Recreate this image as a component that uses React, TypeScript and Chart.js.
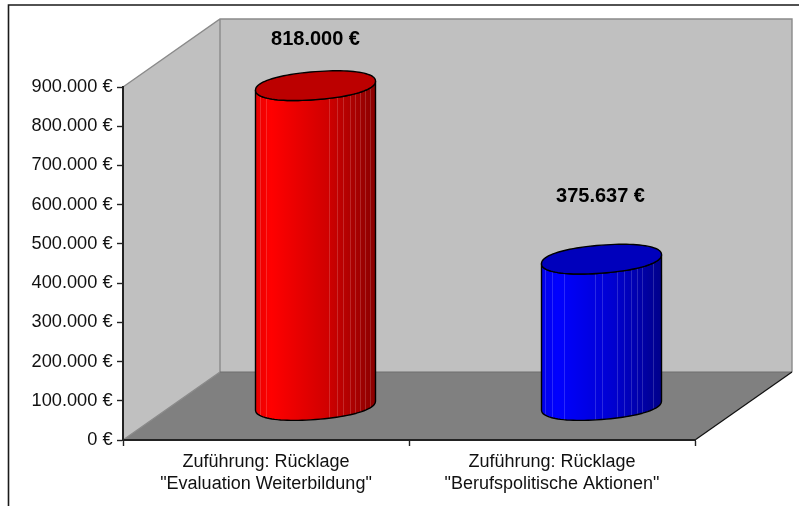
import React, { useEffect, useRef } from "react";
import { Chart, registerables } from "chart.js";

Chart.register(...registerables);

const categories = [
  ["Zuführung: Rücklage", '"Evaluation Weiterbildung"'],
  ['Zuführung: Rücklage', '"Berufspolitische Aktionen"'],
];
const values = [818000, 375637];
const labelLifts = [46.5, 63];
const yMax = 900000;
const yStep = 100000;

const bodyStops = [
  ["#e80000", "#ff0000", "#d00000", "#8a0000"],
  ["#0000e8", "#0000ff", "#0000d0", "#00008a"],
];
const capColors = ["#bc0000", "#0000bc"];
const stripeOffsets = [
  [4, 10, 73, 81, 87, 94, 99, 104, 109, 114],
  [3, 10, 22, 53, 60, 75, 82, 89, 95, 100, 111],
];

const WIDTH = 799;
const HEIGHT = 506;
const DEPTH_X = 97;
const DEPTH_Y = -68;
const BAR_W = 120;
const CAP_B = 14;
const CAP_SKEW = -4.5;
const CAP_POWER = 0.92;

const euro = (v: number) =>
  String(v).replace(/\B(?=(\d{3})+$)/g, ".") + " €";

const soft = (v: number) => Math.sign(v) * Math.pow(Math.abs(v), CAP_POWER);

function capPoint(cx: number, cy: number, a: number, t: number): [number, number] {
  const c = soft(Math.cos(t));
  const s = soft(Math.sin(t));
  return [cx + a * c, cy + CAP_B * s + CAP_SKEW * c];
}

function capPath(ctx: CanvasRenderingContext2D, cx: number, cy: number, a: number) {
  ctx.beginPath();
  for (let i = 0; i <= 96; i++) {
    const [x, y] = capPoint(cx, cy, a, (i / 96) * Math.PI * 2);
    if (i === 0) ctx.moveTo(x, y);
    else ctx.lineTo(x, y);
  }
  ctx.closePath();
}

function bodyPath(ctx: CanvasRenderingContext2D, cx: number, top: number, base: number, a: number) {
  ctx.beginPath();
  ctx.moveTo(cx - a, top - CAP_SKEW);
  ctx.lineTo(cx - a, base - CAP_SKEW);
  for (let i = 0; i <= 48; i++) {
    const [x, y] = capPoint(cx, base, a, Math.PI - (i / 48) * Math.PI);
    ctx.lineTo(x, y);
  }
  ctx.lineTo(cx + a, top + CAP_SKEW);
  for (let i = 0; i <= 48; i++) {
    const [x, y] = capPoint(cx, top, a, (i / 48) * Math.PI);
    ctx.lineTo(x, y);
  }
  ctx.closePath();
}

const scenePlugin = {
  id: "scene",
  beforeDraw(chart: any) {
    const { ctx, chartArea: a } = chart;
    ctx.save();
    ctx.fillStyle = "#ffffff";
    ctx.fillRect(0, 0, WIDTH, HEIGHT);

    ctx.strokeStyle = "#1a1a1a";
    ctx.lineWidth = 1.6;
    ctx.beginPath();
    ctx.moveTo(WIDTH, 5);
    ctx.lineTo(8.5, 5);
    ctx.lineTo(8.5, HEIGHT);
    ctx.stroke();

    const bx = DEPTH_X;
    const by = DEPTH_Y;
    ctx.fillStyle = "#c0c0c0";
    ctx.beginPath();
    ctx.rect(a.left + bx, a.top + by, a.width, a.height);
    ctx.fill();
    ctx.beginPath();
    ctx.moveTo(a.left, a.top);
    ctx.lineTo(a.left + bx, a.top + by);
    ctx.lineTo(a.left + bx, a.bottom + by);
    ctx.lineTo(a.left, a.bottom);
    ctx.closePath();
    ctx.fill();
    ctx.fillStyle = "#808080";
    ctx.beginPath();
    ctx.moveTo(a.left, a.bottom);
    ctx.lineTo(a.left + bx, a.bottom + by);
    ctx.lineTo(a.right + bx, a.bottom + by);
    ctx.lineTo(a.right, a.bottom);
    ctx.closePath();
    ctx.fill();

    ctx.strokeStyle = "#8a8a8a";
    ctx.lineWidth = 1.4;
    ctx.beginPath();
    ctx.moveTo(a.left, a.top);
    ctx.lineTo(a.left + bx, a.top + by);
    ctx.lineTo(a.right + bx, a.top + by);
    ctx.lineTo(a.right + bx, a.bottom + by);
    ctx.moveTo(a.left + bx, a.top + by);
    ctx.lineTo(a.left + bx, a.bottom + by);
    ctx.moveTo(a.left, a.bottom);
    ctx.lineTo(a.left + bx, a.bottom + by);
    ctx.stroke();
    ctx.strokeStyle = "#6e6e6e";
    ctx.lineWidth = 1;
    ctx.beginPath();
    ctx.moveTo(a.left + bx, a.bottom + by);
    ctx.lineTo(a.right + bx, a.bottom + by);
    ctx.stroke();
    ctx.strokeStyle = "#111111";
    ctx.lineWidth = 1.2;
    ctx.beginPath();
    ctx.moveTo(a.right, a.bottom);
    ctx.lineTo(a.right + bx, a.bottom + by);
    ctx.stroke();
    ctx.restore();
  },
  afterDatasetsDraw(chart: any) {
    const { ctx } = chart;
    const meta = chart.getDatasetMeta(0);
    const dx = DEPTH_X / 2 + 1;
    const dy = DEPTH_Y / 2;
    meta.data.forEach((bar: any, i: number) => {
      const { x, y, base, width } = bar.getProps(["x", "y", "base", "width"], true);
      const cx = x + dx;
      const top = y + dy + 0.5;
      const bot = base + dy;
      const a = width / 2;

      ctx.save();
      bodyPath(ctx, cx, top, bot, a);
      const g = ctx.createLinearGradient(cx - a, 0, cx + a, 0);
      const s = bodyStops[i];
      g.addColorStop(0, s[0]);
      g.addColorStop(0.13, s[1]);
      g.addColorStop(0.6, s[2]);
      g.addColorStop(1, s[3]);
      ctx.fillStyle = g;
      ctx.fill();
      ctx.save();
      ctx.clip();
      ctx.strokeStyle = "rgba(255,255,255,0.16)";
      ctx.lineWidth = 1;
      stripeOffsets[i].forEach((o) => {
        const sx = Math.round(cx - a + o) + 0.5;
        ctx.beginPath();
        ctx.moveTo(sx, top - 30);
        ctx.lineTo(sx, bot + 30);
        ctx.stroke();
      });
      ctx.restore();
      ctx.strokeStyle = "#000000";
      ctx.lineWidth = 1.4;
      ctx.lineJoin = "round";
      bodyPath(ctx, cx, top, bot, a);
      ctx.stroke();
      capPath(ctx, cx, top, a);
      ctx.fillStyle = capColors[i];
      ctx.fill();
      ctx.stroke();

      ctx.fillStyle = "#000000";
      ctx.font = 'bold 20px "Liberation Sans", Arial, sans-serif';
      ctx.textAlign = "center";
      ctx.textBaseline = "middle";
      ctx.fillText(euro(values[i]), cx - (i === 1 ? 1 : 0), top - labelLifts[i]);
      ctx.restore();
    });
  },
};

export default function App() {
  const ref = useRef<HTMLCanvasElement | null>(null);
  useEffect(() => {
    const chart = new Chart(ref.current as HTMLCanvasElement, {
      type: "bar",
      data: {
        labels: categories as any,
        datasets: [
          {
            data: values,
            backgroundColor: "rgba(0,0,0,0)",
            borderWidth: 0,
            barThickness: BAR_W,
          },
        ],
      },
      options: {
        responsive: false,
        animation: false,
        layout: { padding: { top: 87, right: 104, left: 0, bottom: 0 } },
        plugins: { legend: { display: false }, tooltip: { enabled: false } },
        scales: {
          x: {
            afterFit(axis: any) {
              axis.height = HEIGHT - 440;
            },
            grid: {
              drawOnChartArea: false,
              drawTicks: true,
              tickLength: 6,
              tickColor: "#222222",
              tickWidth: 1.4,
            },
            border: { color: "#222222", width: 2 },
            ticks: {
              color: "#111111",
              font: { family: '"Liberation Sans", Arial, sans-serif', size: 18, lineHeight: 1.2 },
              padding: 5.5,
              maxRotation: 0,
              autoSkip: false,
            },
          },
          y: {
            min: 0,
            max: yMax,
            afterFit(axis: any) {
              axis.width = 123;
            },
            grid: {
              drawOnChartArea: false,
              drawTicks: true,
              tickLength: 6,
              tickColor: "#222222",
              tickWidth: 1.4,
            },
            border: { color: "#222222", width: 2 },
            ticks: {
              stepSize: yStep,
              color: "#111111",
              font: { family: '"Liberation Sans", Arial, sans-serif', size: 18.2 },
              padding: 4.5,
              callback: (v: any) => euro(Number(v)),
            },
          },
        },
      },
      plugins: [scenePlugin],
    } as any);
    return () => chart.destroy();
  }, []);
  return (
    <div style={{ position: "absolute", left: 0, top: 0, width: WIDTH, height: HEIGHT, overflow: "hidden" }}>
      <canvas ref={ref} width={WIDTH} height={HEIGHT} style={{ display: "block" }} />
    </div>
  );
}
